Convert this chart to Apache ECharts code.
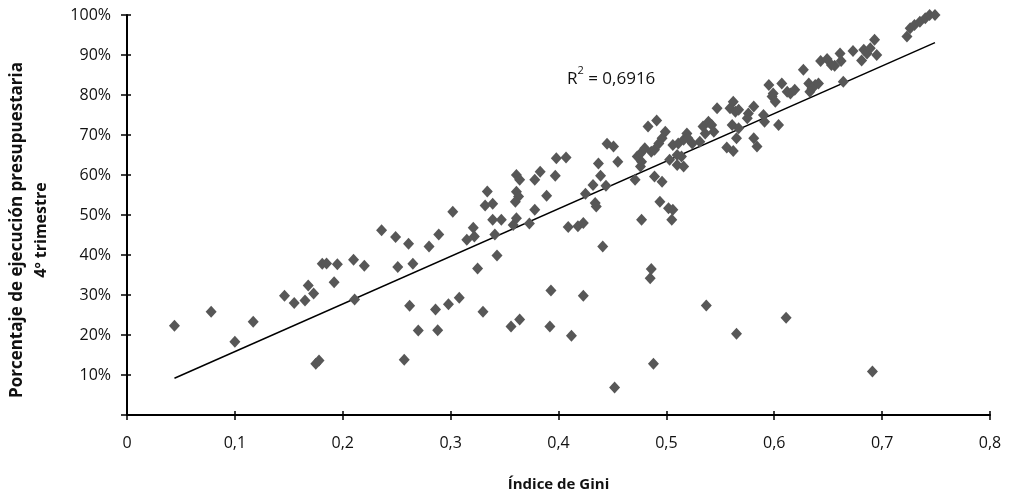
<!DOCTYPE html>
<html>
<head>
<meta charset="utf-8">
<script src="https://cdn.jsdelivr.net/npm/echarts@6/dist/echarts.min.js"></script>
<style>
html,body{margin:0;padding:0;background:#fff;}
#chart{width:1010px;height:494px;}
</style>
</head>
<body>
<div id="chart"></div>
<script>
// Índice de Gini (x) and Porcentaje de ejecución presupuestaria (y, %)
var gini = [
0.044,0.078,0.100,0.117,0.146,0.155,0.165,0.168,0.173,0.175,0.178,0.181,0.185,0.192,0.195,
0.210,0.211,0.220,0.236,0.249,0.251,0.257,0.261,0.262,0.265,0.270,0.280,0.286,0.288,0.289,
0.298,0.302,0.308,0.315,0.321,0.322,0.325,0.330,0.332,0.334,0.339,0.339,0.341,0.343,0.347,
0.356,0.358,0.361,0.364,0.361,0.363,0.360,0.361,0.364,0.373,0.378,0.378,0.383,0.389,0.392,
0.393,0.397,0.398,0.407,0.409,0.412,0.418,0.423,0.423,0.425,0.432,0.434,0.435,0.437,0.439,
0.441,0.444,0.445,0.451,0.452,0.455,0.471,0.473,0.476,0.476,0.477,0.477,0.480,0.483,0.485,
0.486,0.486,0.488,0.489,0.489,0.491,0.493,0.494,0.496,0.496,0.499,0.502,0.503,0.505,0.506,
0.506,0.510,0.510,0.511,0.514,0.516,0.516,0.519,0.520,0.524,0.531,0.534,0.536,0.537,0.539,
0.542,0.544,0.547,0.556,0.562,0.559,0.562,0.564,0.567,0.561,0.567,0.565,0.565,0.575,0.576,
0.581,0.581,0.584,0.590,0.591,0.595,0.598,0.599,0.601,0.604,0.607,0.611,0.612,0.615,0.619,
0.627,0.632,0.633,0.635,0.638,0.641,0.643,0.649,0.653,0.656,0.661,0.662,0.664,0.673,0.681,
0.683,0.686,0.689,0.691,0.693,0.695,0.723,0.726,0.730,0.735,0.740,0.744,0.749
];
var ejecucion = [
22.3,25.8,18.3,23.3,29.8,28.0,28.6,32.4,30.4,12.8,13.6,37.8,37.9,33.2,37.7,
38.8,28.9,37.3,46.2,44.5,37.0,13.8,42.8,27.3,37.8,21.1,42.1,26.4,21.2,45.1,
27.7,50.8,29.3,43.8,46.8,44.6,36.6,25.8,52.4,55.9,52.8,48.8,45.1,39.9,48.8,
22.1,47.5,60.0,58.8,55.8,54.6,53.3,49.2,23.9,47.9,51.3,58.8,60.8,54.8,22.1,
31.1,59.8,64.2,64.4,47.0,19.8,47.2,48.0,29.8,55.3,57.5,53.0,52.1,62.9,59.8,
42.1,57.3,67.8,67.1,6.9,63.3,58.8,64.6,65.4,62.1,63.3,48.8,66.7,72.1,34.2,
36.5,65.8,12.8,66.3,59.6,73.6,67.9,53.3,69.2,58.3,70.8,51.7,63.8,48.8,51.3,
67.5,65.0,62.5,67.9,64.6,62.1,68.8,70.4,69.2,67.9,68.3,72.1,70.4,27.4,73.3,
72.5,70.8,76.7,66.9,66.0,76.7,78.3,75.8,76.3,72.5,71.7,69.2,20.3,74.2,75.4,
77.1,69.2,67.1,75.0,73.3,82.5,79.6,80.4,78.3,72.5,82.9,24.3,80.8,80.4,81.3,
86.3,82.9,80.8,81.7,82.5,82.9,88.5,89.0,87.5,87.3,90.4,88.5,83.3,91.0,88.6,
91.3,90.4,91.7,10.9,93.8,90.0,94.6,96.7,97.5,98.3,99.2,100,100
];
// Linear trend line endpoints (x, y%)
var trendX = [0.044, 0.749];
var trendY = [9.2, 93.1];
var r2Text = '0,6916';
var xTicks = ['0','0,1','0,2','0,3','0,4','0,5','0,6','0,7','0,8'];
var yTitle1 = 'Porcentaje de ejecución presupuestaria';
var yTitle2 = '4º trimestre';
var xTitle = 'Índice de Gini';

var FONT = 'Open Sans';
var points = gini.map(function(x,i){return [x, ejecucion[i]];});
var trend = trendX.map(function(x,i){return [x, trendY[i]];});

var chart = echarts.init(document.getElementById('chart'), null, {renderer:'canvas'});
var baseX = {
  type:'value', min:0, max:0.8, interval:0.1,
  splitLine:{show:false}
};
var baseY = {
  type:'value', min:0, max:100, interval:10,
  splitLine:{show:false}
};
chart.setOption({
  animation:false,
  backgroundColor:'#ffffff',
  grid:{left:127, right:20, top:15, bottom:79, containLabel:false, outerBoundsMode:'none'},
  xAxis:[
    Object.assign({}, baseX, {
      position:'bottom',
      axisLine:{show:true, onZero:false, lineStyle:{color:'#000', width:2}},
      axisTick:{show:true, length:5, lineStyle:{color:'#000', width:1.5}},
      axisLabel:{color:'#111', fontFamily:FONT, fontSize:16, margin:20,
        formatter:function(v){return xTicks[Math.round(v*10)];}},
      name:xTitle, nameLocation:'middle', nameGap:62,
      nameTextStyle:{color:'#111', fontFamily:FONT, fontSize:15, fontWeight:'bold'}
    }),
    Object.assign({}, baseX, {
      position:'bottom',
      axisLine:{show:false},
      axisTick:{show:true, inside:true, length:4, lineStyle:{color:'#000', width:1.5}},
      axisLabel:{show:false}
    })
  ],
  yAxis:[
    Object.assign({}, baseY, {
      position:'left',
      axisLine:{show:true, onZero:false, lineStyle:{color:'#000', width:2}},
      axisTick:{show:true, length:6, lineStyle:{color:'#000', width:1.5}},
      axisLabel:{color:'#111', fontFamily:FONT, fontSize:16, margin:16,
        formatter:function(v){return v===0 ? '' : v + '%';}}
    }),
    Object.assign({}, baseY, {
      position:'left',
      axisLine:{show:false},
      axisTick:{show:true, inside:true, length:4, lineStyle:{color:'#000', width:1.5}},
      axisLabel:{show:false}
    })
  ],
  series:[
    {
      type:'line', data:trend, xAxisIndex:0, yAxisIndex:0,
      symbol:'none', lineStyle:{color:'#000', width:1.5}, z:1, silent:true
    },
    {
      type:'scatter', data:points, xAxisIndex:0, yAxisIndex:0,
      symbol:'diamond', symbolSize:[11,12],
      itemStyle:{color:'#575757', opacity:1}, z:2
    }
  ],
  graphic:[
    {
      type:'text', x:29, y:230, rotation:Math.PI/2,
      style:{
        text:'{a|' + yTitle1 + '}\n{b|' + yTitle2 + '}',
        align:'center', verticalAlign:'middle',
        rich:{
          a:{fontFamily:FONT, fontSize:17, fontWeight:'bold', fill:'#111', lineHeight:24, align:'center'},
          b:{fontFamily:FONT, fontSize:16, fontWeight:'bold', fill:'#111', lineHeight:24, align:'center'}
        }
      }
    },
    {
      type:'text', left:567, top:65,
      style:{
        text:'{r|R}{s|2}{r| = ' + r2Text + '}',
        rich:{
          r:{fontFamily:FONT, fontSize:17, fill:'#111', verticalAlign:'bottom', lineHeight:23},
          s:{fontFamily:FONT, fontSize:11, fill:'#111', verticalAlign:'top', lineHeight:23, padding:[0,0,10,0]}
        }
      }
    }
  ]
});
</script>
</body>
</html>
